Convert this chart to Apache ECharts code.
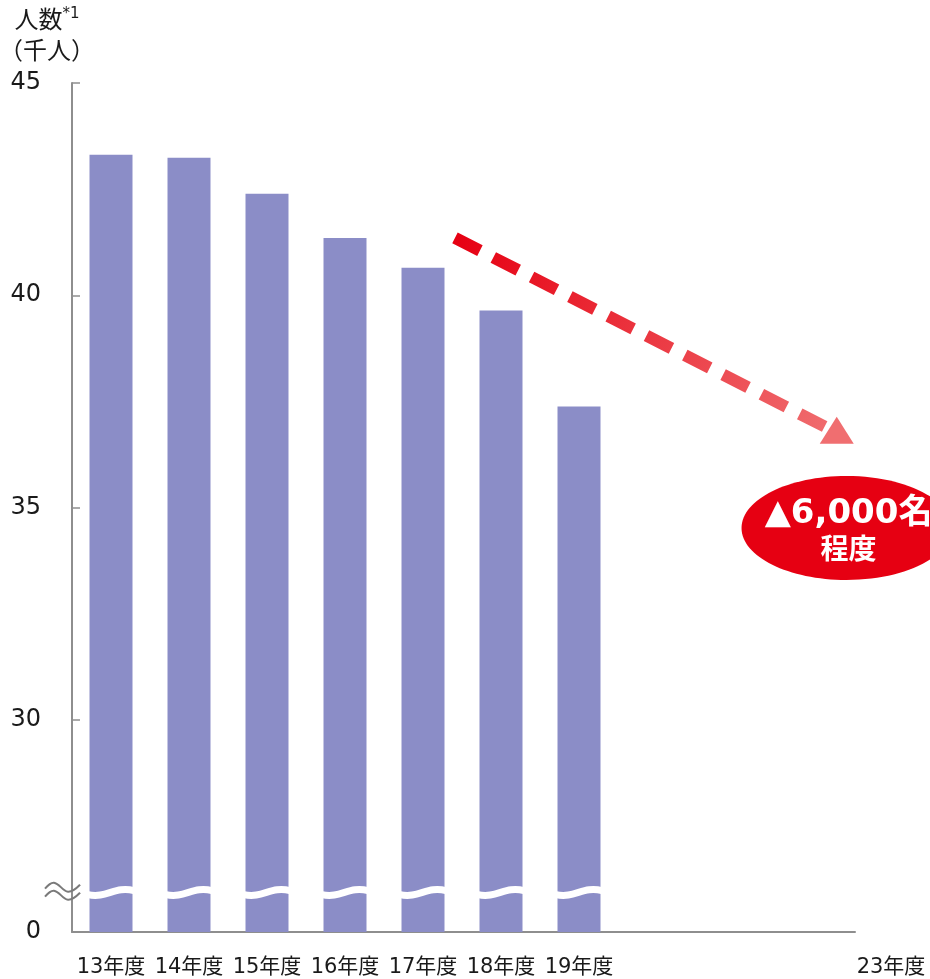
<!DOCTYPE html>
<html>
<head>
<meta charset="utf-8">
<script src="https://cdn.jsdelivr.net/npm/echarts@6/dist/echarts.min.js"></script>
<style>
  html, body { margin: 0; padding: 0; background: #fff; }
  #chart { width: 930px; height: 979px; }
</style>
</head>
<body>
<div id="chart"></div>
<script>
// data
const categories = ['13年度', '14年度', '15年度', '16年度', '17年度', '18年度', '19年度', '', '', '', '23年度']
const values = [43.31, 43.24, 42.39, 41.35, 40.65, 39.64, 37.38, null, null, null, null]
const yMin = 25          // shown as "0" (broken axis)
const yMax = 45
const yStep = 5
const breakValue = 25.95 // where the wavy break crosses the bars
const trendStart = [4.41, 41.35]
const trendEnd = [9.33, 36.74]
const calloutAt = [9.43, 34.52]
const calloutMain = '▲6,000名'
const calloutSub = '程度'

const FONT = "'DejaVu Sans', 'Noto Sans CJK JP', sans-serif"
const AXIS_GRAY = '#8e8e8e'
const TEXT = '#1a1a1a'

const chart = echarts.init(document.getElementById('chart'))

chart.setOption({
  animation: false,
  backgroundColor: '#fff',
  grid: [
    { left: 72, right: 0, top: 83, bottom: 47 },
    // second grid only draws the x axis line, which stops before 23年度
    { left: 72, right: 75, top: 83, bottom: 47 },
  ],
  xAxis: [
    {
      type: 'category',
      gridIndex: 0,
      data: categories,
      axisLine: { show: false },
      axisTick: { show: false },
      axisLabel: { color: TEXT, fontSize: 21, fontFamily: FONT, margin: 25, interval: 0 },
    },
    {
      type: 'category',
      gridIndex: 1,
      data: [''],
      axisLine: { show: true, onZero: false, lineStyle: { color: AXIS_GRAY, width: 2 } },
      axisTick: { show: false },
      axisLabel: { show: false },
    },
  ],
  yAxis: [
    {
      type: 'value',
      gridIndex: 0,
      min: yMin,
      max: yMax,
      interval: yStep,
      axisLine: { show: true, lineStyle: { color: AXIS_GRAY, width: 2 } },
      axisTick: { show: true, inside: true, length: 8, lineStyle: { color: AXIS_GRAY, width: 1.5 } },
      splitLine: { show: false },
      axisLabel: {
        color: TEXT,
        fontSize: 24,
        fontFamily: FONT,
        margin: 31,
        formatter: v => (v === yMin ? '0' : String(v)),
      },
    },
    { type: 'value', gridIndex: 1, min: yMin, max: yMax, show: false },
  ],
  series: [
    {
      type: 'bar',
      xAxisIndex: 0,
      yAxisIndex: 0,
      data: values,
      barWidth: 43,
      itemStyle: { color: '#8b8dc7' },
    },
  ],
})

// data coordinate -> pixel, allowing fractional category positions
function px(idx, val) {
  const a = chart.convertToPixel({ seriesIndex: 0 }, [0, val])
  const b = chart.convertToPixel({ seriesIndex: 0 }, [1, val])
  const step = b[0] - a[0]
  return [a[0] + step * idx, a[1]]
}

const graphics = []

// wavy white break across each bar
values.forEach((v, i) => {
  if (v == null) return
  const [cx, cy] = px(i, breakValue)
  graphics.push({
    type: 'bezierCurve',
    shape: {
      x1: cx - 23, y1: cy + 3,
      cpx1: cx - 4, cpy1: cy + 7,
      cpx2: cx + 4, cpy2: cy - 6,
      x2: cx + 23, y2: cy - 1,
    },
    style: { stroke: '#fff', lineWidth: 7, fill: null },
    z: 10,
  })
})

// break symbol on the y axis
const [axX, axY] = px(-0.5, breakValue)
;[-4, 4].forEach(dy => {
  graphics.push({
    type: 'polyline',
    shape: {
      points: [
        [axX - 27, axY + dy + 1],
        [axX - 18, axY + dy - 5],
        [axX - 4, axY + dy + 4],
        [axX + 8, axY + dy - 3],
      ],
      smooth: 0.4,
    },
    style: { stroke: '#7a7a7a', lineWidth: 2, fill: null },
    z: 10,
  })
})

// dashed trend arrow
const s = px(trendStart[0], trendStart[1])
const e = px(trendEnd[0], trendEnd[1])
graphics.push({
  type: 'line',
  shape: { x1: s[0], y1: s[1], x2: e[0] - 6, y2: e[1] - 3 },
  style: {
    stroke: {
      type: 'linear', global: true,
      x: s[0], y: s[1], x2: e[0], y2: e[1],
      colorStops: [
        { offset: 0, color: '#e60012' },
        { offset: 1, color: '#f06e70' },
      ],
    },
    lineWidth: 12,
    lineDash: [28, 15],
    lineCap: 'butt',
  },
  z: 10,
})
graphics.push({
  type: 'polygon',
  shape: { points: [[e[0] - 2, e[1] - 17], [e[0] - 19, e[1] + 10], [e[0] + 15, e[1] + 10]] },
  style: { fill: '#f06e70' },
  z: 11,
})

// callout ellipse
const c = px(calloutAt[0], calloutAt[1])
graphics.push({
  type: 'ellipse',
  shape: { cx: c[0], cy: c[1], rx: 105, ry: 52 },
  style: { fill: '#e60012' },
  z: 10,
})
graphics.push({
  type: 'text',
  x: c[0] + 2,
  y: c[1] + 4,
  style: {
    text: '{a|' + calloutMain + '}\n{b|' + calloutSub + '}',
    align: 'center',
    verticalAlign: 'middle',
    rich: {
      a: { fontSize: 34, fontWeight: 'bold', fontFamily: FONT, fill: '#fff', lineHeight: 40 },
      b: { fontSize: 28, fontWeight: 'bold', fontFamily: FONT, fill: '#fff', lineHeight: 36 },
    },
  },
  z: 12,
})

// axis title
graphics.push({
  type: 'text',
  x: 47,
  y: 6,
  style: {
    text: '{a|人数}{s|*1}\n{a|（千人）}',
    align: 'center',
    rich: {
      a: { fontSize: 24, fontFamily: FONT, fill: TEXT, lineHeight: 31 },
      s: { fontSize: 15, fontFamily: FONT, fill: TEXT, lineHeight: 31, verticalAlign: 'top', padding: [1, 0, 0, 0] },
    },
  },
  z: 12,
})

chart.setOption({ graphic: graphics })
</script>
</body>
</html>
